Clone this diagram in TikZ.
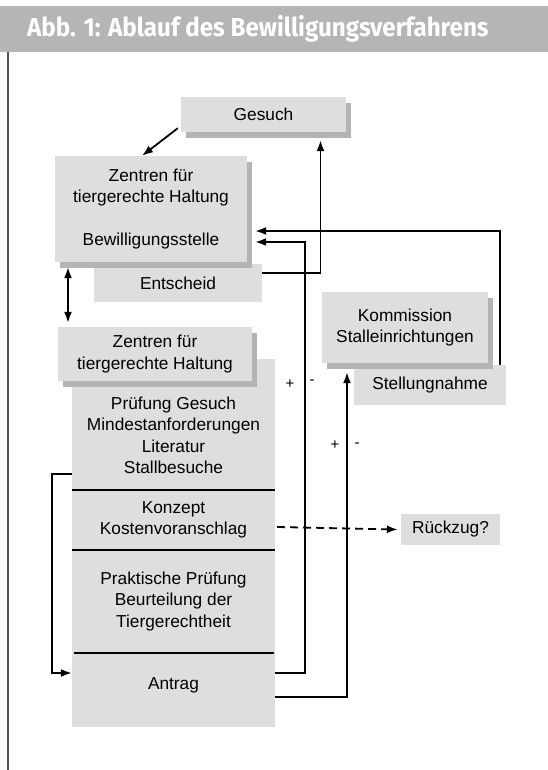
\documentclass[tikz,border=0pt]{standalone}
\usepackage{fontspec}
\setmainfont{Liberation Sans}
\newfontfamily\titlefont[FakeStretch=0.93]{Fira Sans}
\usetikzlibrary{arrows.meta, shadows, calc}
\definecolor{boxgray}{HTML}{DEDEDE}
\definecolor{shadegray}{HTML}{B4B4B4}
\definecolor{headgray}{HTML}{B5B5B5}
\definecolor{bargray}{HTML}{555555}

\begin{document}
\begin{tikzpicture}[x=1pt, y=-1pt,
    >={Latex[length=11pt,width=8pt]},
    every node/.style={font=\fontsize{17.3}{21.5}\selectfont},
    panel/.style={fill=boxgray, inner sep=0pt, align=center},
    shaded/.style={panel, drop shadow={shadow xshift=5pt, shadow yshift=-6pt, fill=shadegray, opacity=1}},
    link/.style={line width=1.8pt, ->},
    seprule/.style={line width=1.8pt},
    sign/.style={font=\fontsize{15}{15}\selectfont, inner sep=0pt}]
  \useasboundingbox (0,0) rectangle (548,770);
  % header
  \fill[headgray] (0,6) rectangle (548,52);
  \node[anchor=base west, text=white, inner sep=0pt, font={\titlefont\fontsize{26}{26}\selectfont\bfseries}] (title) at (27,37) {Abb. 1: Ablauf des Bewilligungsverfahrens};
  \draw[bargray, line width=2pt] (8,52) -- (8,770);
  % top part
  \node[panel, minimum width=168pt, minimum height=38pt] (entscheid) at (178,283) {Entscheid};
  \node[shaded, minimum width=192pt, minimum height=106pt] (zentrenA) at (151,209) {Zentren für\\tiergerechte Haltung\\[21.5pt]Bewilligungsstelle};
  \node[shaded, minimum width=165pt, minimum height=35pt] (gesuch) at (263.5,114.5) {Gesuch};
  % stack
  \node[panel, minimum width=203pt, minimum height=368pt] (stack) at (173.5,543) {};
  \node[align=center, inner sep=0pt, minimum width=203pt, minimum height=109pt] (pruefung) at (173.5,435.5) {Prüfung Gesuch\\Mindestanforderungen\\Literatur\\Stallbesuche};
  \node[align=center, inner sep=0pt, minimum width=203pt, minimum height=60pt] (konzept) at (173.5,520) {Konzept\\Kostenvoranschlag};
  \node[align=center, inner sep=0pt, minimum width=203pt, minimum height=103pt] (praxis) at (173.5,601.5) {Praktische Prüfung\\Beurteilung der\\Tiergerechtheit};
  \node[inner sep=0pt, minimum width=203pt, minimum height=24pt] (antrag) at (173.5,685) {Antrag};
  \draw[seprule] (pruefung.south west) -- (pruefung.south east);
  \draw[seprule] (konzept.south west) -- (konzept.south east);
  \draw[seprule] ([xshift=2pt]praxis.south west) -- ([xshift=-1pt]praxis.south east);
  \node[shaded, minimum width=194pt, minimum height=54pt] (zentrenB) at (155,354) {Zentren für\\tiergerechte Haltung};
  % right part
  \node[panel, minimum width=152pt, minimum height=40pt] (stellung) at (430,385) {Stellungnahme};
  \node[shaded, minimum width=166pt, minimum height=71pt] (kommission) at (405,327.5) {Kommission\\Stalleinrichtungen};
  \node[panel, minimum width=99pt, minimum height=31pt] (rueckzug) at (450.5,529.5) {Rückzug?};
  % connectors
  \draw[link] ([xshift=-3pt,yshift=4pt]gesuch.south west) -- ([xshift=-9pt]zentrenA.north);
  \draw[link] ([yshift=10pt]entscheid.east) -| ([xshift=57pt,yshift=-8pt]gesuch.south);
  \draw[link] ([xshift=70pt]stellung.north) |- ([xshift=8pt,yshift=-22pt]zentrenA.east);
  \draw[link] ([yshift=12pt]antrag.east) -- ++(30,0) |- ([xshift=8pt,yshift=-33pt]zentrenA.east);
  \draw[link] ([yshift=-12pt]antrag.east) -| ([xshift=-58pt,yshift=-9pt]kommission.south);
  \draw[link] ([yshift=16pt]pruefung.south west) -- ++(-20,0) |- ([yshift=12pt]antrag.west);
  \draw[line width=1.8pt, <->] ([xshift=-83pt,yshift=-5pt]zentrenA.south) -- ([xshift=-87pt,yshift=4pt]zentrenB.north);
  \draw[link, dash pattern=on 8pt off 5pt] ([xshift=2pt,yshift=-7pt]konzept.east) -- ([xshift=-3pt]rueckzug.west);
  % signs
  \node[sign] (plusA) at (290,384) {+};
  \node[sign] (minusA) at (312,382) {-};
  \node[sign] (plusB) at (335,445) {+};
  \node[sign] (minusB) at (357,445) {-};
\end{tikzpicture}
\end{document}
